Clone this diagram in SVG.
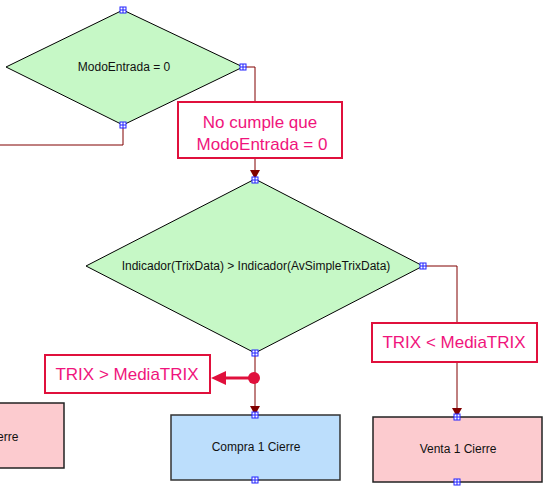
<svg xmlns="http://www.w3.org/2000/svg" width="549" height="490" viewBox="0 0 549 490">
<defs>
<style>
.dia{fill:#c6f8c6;stroke:#000;stroke-width:1}
.buy{fill:#bcdefc;stroke:#333;stroke-width:1.5}
.sell{fill:#fccbcf;stroke:#222;stroke-width:1.5}
.t{font-family:"Liberation Sans",Arial,sans-serif;font-size:12px;fill:#111;text-anchor:middle}
.lb{fill:#fff;stroke:#e0103c;stroke-width:2}
.lt{font-family:"Liberation Sans",Arial,sans-serif;font-size:17px;fill:#f0147c;text-anchor:middle}
.c{fill:none;stroke:#800000;stroke-width:1}
.h{fill:#fff;stroke:#2020ff;stroke-width:1}
</style>
<marker id="ah" markerWidth="10" markerHeight="10" refX="9" refY="5" orient="auto" markerUnits="userSpaceOnUse" viewBox="0 0 10 10">
<path d="M0,0 L9,5 L0,10 Z" fill="#800000"/>
</marker>
<g id="hd"><rect x="-3" y="-3" width="6" height="6" class="h"/><path d="M-3,0 H3 M0,-3 V3" stroke="#2020ff" stroke-width="1"/></g>
</defs>
<rect width="549" height="490" fill="#fff"/>
<g id="connectors">
<path class="c" d="M123,125 V145 H0"/>
<path class="c" d="M243,67 H255 V179" marker-end="url(#ah)"/>
<path class="c" d="M255,353 V415" marker-end="url(#ah)"/>
<path class="c" d="M423,266 H457 V417" marker-end="url(#ah)"/>
<path d="M254,378 H222" stroke="#e0103c" stroke-width="3" fill="none"/>
<path d="M211,378 L226,371 L226,385 Z" fill="#e0103c"/>
<circle cx="254" cy="378" r="6" fill="#e0103c"/>
</g>
<g id="d1">
<polygon class="dia" points="123,10 243,67 123,125 6,67"/>
<text class="t" x="124" y="71">ModoEntrada = 0</text>
</g>
<g id="l1">
<rect class="lb" x="178" y="102" width="164" height="56"/>
<text class="lt" x="260" y="128">No cumple que</text>
<text class="lt" x="262" y="150">ModoEntrada = 0</text>
</g>
<g id="d2">
<polygon class="dia" points="255,179 423,266 255,353 86,266"/>
<text class="t" x="256" y="270">Indicador(TrixData) &gt; Indicador(AvSimpleTrixData)</text>
</g>
<g id="l2">
<rect class="lb" x="372" y="323" width="165" height="39"/>
<text class="lt" x="454" y="348">TRIX &lt; MediaTRIX</text>
</g>
<g id="l3">
<rect class="lb" x="45" y="355" width="165" height="38"/>
<text class="lt" x="127" y="380">TRIX &gt; MediaTRIX</text>
</g>
<g id="n0">
<rect class="sell" x="-105" y="403" width="169" height="65"/>
<text class="t" x="-20" y="441">Venta 1 Cierre</text>
</g>
<g id="n1">
<rect class="buy" x="171" y="415" width="169" height="65"/>
<text class="t" x="256" y="451">Compra 1 Cierre</text>
</g>
<g id="n2">
<rect class="sell" x="373" y="417" width="169" height="65"/>
<text class="t" x="458" y="453">Venta 1 Cierre</text>
</g>
<g id="handles">
<use href="#hd" x="123" y="10"/>
<use href="#hd" x="243" y="67"/>
<use href="#hd" x="123" y="125"/>
<use href="#hd" x="255" y="180"/>
<use href="#hd" x="423" y="266"/>
<use href="#hd" x="255" y="353"/>
<use href="#hd" x="255" y="415"/>
<use href="#hd" x="255" y="480"/>
<use href="#hd" x="457" y="417"/>
<use href="#hd" x="457" y="482"/>
</g>
</svg>
